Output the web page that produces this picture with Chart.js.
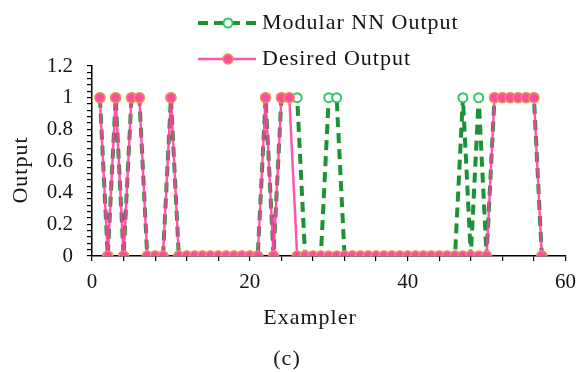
<!DOCTYPE html>
<html>
<head>
<meta charset="utf-8">
<script src="https://cdn.jsdelivr.net/npm/chart.js@4/dist/chart.umd.min.js"></script>
<style>
  html, body { margin: 0; padding: 0; background: #fff; }
  #wrap { width: 585px; height: 372px; }
</style>
</head>
<body>
<div id="wrap"><canvas id="outputChart" width="585" height="372"></canvas></div>
<script>
// exemplar numbers along the x axis
const exemplars = [1, 2, 3, 4, 5, 6, 7, 8, 9, 10, 11, 12, 13, 14, 15, 16, 17, 18, 19, 20,
    21, 22, 23, 24, 25, 26, 27, 28, 29, 30, 31, 32, 33, 34, 35, 36, 37, 38, 39, 40,
    41, 42, 43, 44, 45, 46, 47, 48, 49, 50, 51, 52, 53, 54, 55, 56, 57];

// network output per exemplar
const modularOutput = [1, 0, 1, 0, 1, 1, 0, 0, 0, 1, 0, 0, 0, 0, 0, 0, 0, 0, 0, 0,
    0, 1, 0, 1, 1, 1, 0, 0, 0, 1, 1, 0, 0, 0, 0, 0, 0, 0, 0, 0,
    0, 0, 0, 0, 0, 0, 1, 0, 1, 0, 1, 1, 1, 1, 1, 1, 0];

// target output per exemplar
const desiredOutput = [1, 0, 1, 0, 1, 1, 0, 0, 0, 1, 0, 0, 0, 0, 0, 0, 0, 0, 0, 0,
    0, 1, 0, 1, 1, 0, 0, 0, 0, 0, 0, 0, 0, 0, 0, 0, 0, 0, 0, 0,
    0, 0, 0, 0, 0, 0, 0, 0, 0, 0, 1, 1, 1, 1, 1, 1, 0];

const seriesNames = ['Modular NN Output', 'Desired Output'];
const xTitle = 'Exampler';
const yTitle = 'Output';
const caption = '(c)';

const serif = '"Liberation Serif", "Times New Roman", serif';
const textColor = '#141414';

const greenLine = '#1c9236';
const greenMark = '#35c26a';
const pinkLine = 'rgba(255, 62, 160, 0.88)';
const pinkMark = '#ff4aa2';
const pinkEdge = '#f2904c';

function toPoints(values) {
    return exemplars.map(function (x, i) { return { x: x, y: values[i] }; });
}

// legend, axis titles and caption drawn straight onto the canvas
const decorations = {
    id: 'decorations',
    afterDraw: function (chart) {
        const ctx = chart.ctx;
        const area = chart.chartArea;
        ctx.save();

        // legend rows
        const rows = [
            { y: 23, name: seriesNames[0], green: true },
            { y: 59, name: seriesNames[1], green: false }
        ];
        rows.forEach(function (row) {
            ctx.beginPath();
            ctx.moveTo(198, row.y);
            ctx.lineTo(256, row.y);
            if (row.green) {
                ctx.strokeStyle = greenLine;
                ctx.lineWidth = 4;
                ctx.setLineDash([10, 6]);
            } else {
                ctx.strokeStyle = pinkLine;
                ctx.lineWidth = 2.5;
                ctx.setLineDash([]);
            }
            ctx.stroke();
            ctx.setLineDash([]);
            ctx.beginPath();
            ctx.arc(228, row.y, row.green ? 4.5 : 5, 0, Math.PI * 2);
            ctx.fillStyle = row.green ? '#f2fbf5' : pinkMark;
            ctx.fill();
            ctx.lineWidth = row.green ? 2 : 1.5;
            ctx.strokeStyle = row.green ? greenMark : pinkEdge;
            ctx.stroke();

            ctx.fillStyle = textColor;
            ctx.font = '22px ' + serif;
            ctx.letterSpacing = '1px';
            ctx.textAlign = 'left';
            ctx.textBaseline = 'middle';
            ctx.fillText(row.name, 262, row.y);
        });

        // x axis title and caption
        ctx.fillStyle = textColor;
        ctx.font = '22px ' + serif;
        ctx.letterSpacing = '1px';
        ctx.textAlign = 'center';
        ctx.textBaseline = 'middle';
        ctx.fillText(xTitle, 310, area.bottom + 62);
        ctx.fillText(caption, 287, area.bottom + 103);

        // y axis title
        ctx.translate(21, 170);
        ctx.rotate(-Math.PI / 2);
        ctx.fillText(yTitle, 0, 0);

        ctx.restore();
    }
};

const ctx = document.getElementById('outputChart').getContext('2d');
const chart = new Chart(ctx, {
    type: 'line',
    data: {
        datasets: [{
            label: seriesNames[0],
            data: toPoints(modularOutput),
            order: 2,
            borderColor: greenLine,
            borderWidth: 4,
            borderDash: [10, 6],
            pointRadius: 4.5,
            pointBackgroundColor: '#f2fbf5',
            pointBorderColor: greenMark,
            pointBorderWidth: 2,
            tension: 0
        }, {
            label: seriesNames[1],
            data: toPoints(desiredOutput),
            order: 1,
            borderColor: pinkLine,
            borderWidth: 2.5,
            pointRadius: 5,
            pointBackgroundColor: pinkMark,
            pointBorderColor: pinkEdge,
            pointBorderWidth: 1.5,
            tension: 0
        }]
    },
    options: {
        responsive: false,
        animation: false,
        layout: { padding: { top: 66, right: 13, bottom: 0, left: 0 } },
        plugins: {
            legend: { display: false },
            tooltip: { enabled: false }
        },
        scales: {
            x: {
                type: 'linear',
                min: 0,
                max: 60,
                afterFit: function (scale) { scale.height = 116; },
                border: { color: '#000', width: 1.5 },
                grid: { drawOnChartArea: false, tickLength: 5, color: '#000', lineWidth: 1.2 },
                ticks: {
                    stepSize: 4,
                    autoSkip: false,
                    maxRotation: 0,
                    padding: 9,
                    color: textColor,
                    font: { family: serif, size: 21 },
                    callback: function (v) { return v % 20 === 0 ? String(v) : ''; }
                }
            },
            y: {
                min: 0,
                max: 1.2,
                afterFit: function (scale) { scale.width = 92; },
                border: { color: '#000', width: 1.5 },
                grid: { drawOnChartArea: false, tickLength: 5, color: '#000', lineWidth: 1.2 },
                ticks: {
                    stepSize: 0.04,
                    autoSkip: false,
                    padding: 14,
                    color: textColor,
                    font: { family: serif, size: 21 },
                    callback: function (v) {
                        const hundredths = Math.round(v * 100);
                        return hundredths % 20 === 0 ? String(hundredths / 100) : '';
                    }
                }
            }
        }
    },
    plugins: [decorations]
});
</script>
</body>
</html>
